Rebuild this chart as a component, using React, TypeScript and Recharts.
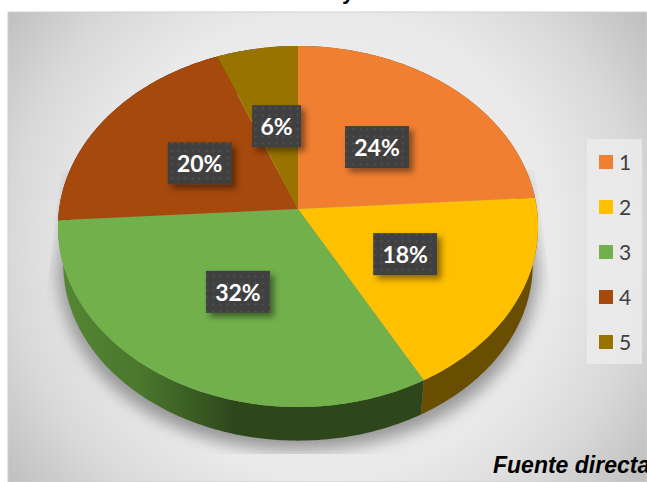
import React from 'react';
import { PieChart, Pie, Legend, Customized } from 'recharts';

const categories = ['1', '2', '3', '4', '5'];
const shares = [24, 18, 32, 20, 6];
const faceColors = ['#F07F32', '#FFC000', '#72B04B', '#A5490C', '#997300'];
const wallColors = ['#7A3F17', '#694D00', 'url(#greenWall)', '#5A2A08', '#544000'];

const W = 647;
const H = 482;
// where the disc centre lands on the page
const CX = 298;
const CY = 209;
// tilted-disc projection constants
const K = -0.097;
const A = 178.8;
const B = 238.9;
// rim of the extruded disc sits lower and a little smaller
const DROP = 38;
const RIM_SCALE = 0.978;

const RAD = Math.PI / 180;

// recharts angles run counter-clockwise from 3 o'clock, radius is a 0..1 fraction
const project = (deg: number, r = 1) => {
  const x = r * Math.cos(deg * RAD);
  const y = -r * Math.sin(deg * RAD);
  const w = 1 + K * y;
  return { x: CX + (B * x) / w, y: CY + (A * y) / w };
};

const rimPoint = (deg: number) => {
  const p = project(deg);
  return { x: CX + (p.x - CX) * RIM_SCALE, y: CY + DROP + (p.y - CY) * RIM_SCALE };
};

const arcPoints = (from: number, to: number, fn: (d: number) => { x: number; y: number }) => {
  const pts = [];
  const steps = Math.max(2, Math.ceil(Math.abs(to - from)));
  for (let i = 0; i <= steps; i++) pts.push(fn(from + ((to - from) * i) / steps));
  return pts;
};

const toPath = (pts: { x: number; y: number }[]) =>
  pts.map((p, i) => `${i ? 'L' : 'M'}${p.x.toFixed(2)} ${p.y.toFixed(2)}`).join(' ');

const FaceSlice = (props: any) => {
  const pts = arcPoints(props.startAngle, props.endAngle, (d) => project(d));
  return <path d={`M${CX} ${CY} ${toPath(pts).replace('M', 'L')} Z`} fill={props.fill} />;
};

const WallSlice = (props: any) => {
  const top = arcPoints(props.startAngle, props.endAngle, (d) => project(d));
  const rim = arcPoints(props.endAngle, props.startAngle, rimPoint);
  return <path d={`${toPath(top)} ${toPath(rim).replace('M', 'L')} Z`} fill={props.fill} />;
};

const renderLabel = (props: any) => {
  const p = project(props.midAngle, 0.5);
  const text = `${props.value}%`;
  const w = text.length === 2 ? 49 : 64;
  const h = 42;
  const cy = p.y + 1;
  return (
    <g>
      <rect x={p.x - w / 2} y={cy - h / 2} width={w} height={h} fill="url(#labelDots)" filter="url(#labelShadow)" />
      <text
        x={p.x}
        y={cy}
        textAnchor="middle"
        dominantBaseline="central"
        fill="#fff"
        fontFamily="Lato, sans-serif"
        fontWeight={700}
        fontSize={23}
      >
        {text}
      </text>
    </g>
  );
};

// both pies feed the legend, only the face colours get a row
const renderLegend = (props: any) => (
  <div style={{ background: 'rgba(236,236,236,0.8)', width: 55, height: 225 }}>
    {(props.payload || [])
      .filter((item: any) => faceColors.includes(item.color))
      .map((item: any) => (
        <div key={item.value} style={{ height: 45, display: 'flex', alignItems: 'center', paddingLeft: 12 }}>
          <span style={{ width: 14, height: 14, background: item.color, display: 'inline-block', marginRight: 6 }} />
          <span style={{ fontFamily: 'Lato, sans-serif', fontSize: 21, color: '#404040' }}>{item.value}</span>
        </div>
      ))}
  </div>
);

const pieData = categories.map((name, i) => ({ name, value: shares[i], fill: faceColors[i] }));
const wallData = categories.map((name, i) => ({ name, value: shares[i], fill: wallColors[i] }));

const Backdrop = () => (
  <g>
    <defs>
      <radialGradient id="panelGlow" gradientUnits="userSpaceOnUse" cx={325} cy={245} r={393}>
        <stop offset="0%" stopColor="#F4F4F4" />
        <stop offset="60%" stopColor="#E9E9E9" />
        <stop offset="80%" stopColor="#D9D9D9" />
        <stop offset="100%" stopColor="#C0C0C0" />
      </radialGradient>
      <linearGradient id="greenWall" gradientUnits="userSpaceOnUse" x1={62} y1={0} x2={235} y2={0}>
        <stop offset="0%" stopColor="#558733" />
        <stop offset="45%" stopColor="#4A772D" />
        <stop offset="100%" stopColor="#2D471B" />
      </linearGradient>
      <filter id="groundBlur" x="-20%" y="-20%" width="140%" height="140%">
        <feGaussianBlur stdDeviation="8" />
      </filter>
      <filter id="labelShadow" x="-30%" y="-30%" width="170%" height="170%">
        <feDropShadow dx="4" dy="4" stdDeviation="3" floodColor="#000" floodOpacity="0.45" />
      </filter>
      <pattern id="labelDots" width="7" height="7" patternUnits="userSpaceOnUse">
        <rect width="7" height="7" fill="#404040" />
        <circle cx="3.5" cy="3.5" r="1" fill="#525252" />
      </pattern>
      <clipPath id="groundClip">
        <path d="M61 170 L43 323 L43 454 L555 454 L555 323 L535 170 Z" />
      </clipPath>
    </defs>
    <rect x={8} y={12} width={639} height={470} fill="url(#panelGlow)" stroke="#CFCFCF" strokeWidth={1} />
    <g clipPath="url(#groundClip)">
      <path
        d="M72 175 L58 270 C62 375 160 450 298 450 C436 450 534 375 538 270 L524 175 Z"
        fill="#969696"
        filter="url(#groundBlur)"
      />
    </g>
    <text x={342} y={-1} fontFamily="Liberation Sans, Arial, sans-serif" fontWeight={700} fontSize={22} fill="#000">
      y
    </text>
    <text
      x={493}
      y={473}
      fontFamily="Liberation Sans, Arial, sans-serif"
      fontWeight={700}
      fontStyle="italic"
      fontSize={23}
      fill="#000"
    >
      Fuente directa
    </text>
  </g>
);

export default function App() {
  return (
    <div style={{ position: 'absolute', left: 0, top: 0, width: W, height: H, overflow: 'hidden', background: '#fff' }}>
      <PieChart width={W} height={H} margin={{ top: 0, right: 0, bottom: 0, left: 0 }}>
        <Customized component={Backdrop} />
        <Pie
          data={wallData}
          dataKey="value"
          nameKey="name"
          cx={CX}
          cy={CY}
          outerRadius={160}
          startAngle={90}
          endAngle={-270}
          stroke="none"
          legendType="none"
          shape={WallSlice}
          isAnimationActive={false}
        />
        <Pie
          data={pieData}
          dataKey="value"
          nameKey="name"
          cx={CX}
          cy={CY}
          outerRadius={160}
          startAngle={90}
          endAngle={-270}
          stroke="none"
          shape={FaceSlice}
          label={renderLabel}
          labelLine={false}
          isAnimationActive={false}
        />
        <Legend
          layout="vertical"
          align="right"
          verticalAlign="top"
          content={renderLegend}
          wrapperStyle={{ left: 587, top: 139, width: 55, height: 225, right: 'auto', margin: 0 }}
        />
      </PieChart>
    </div>
  );
}
